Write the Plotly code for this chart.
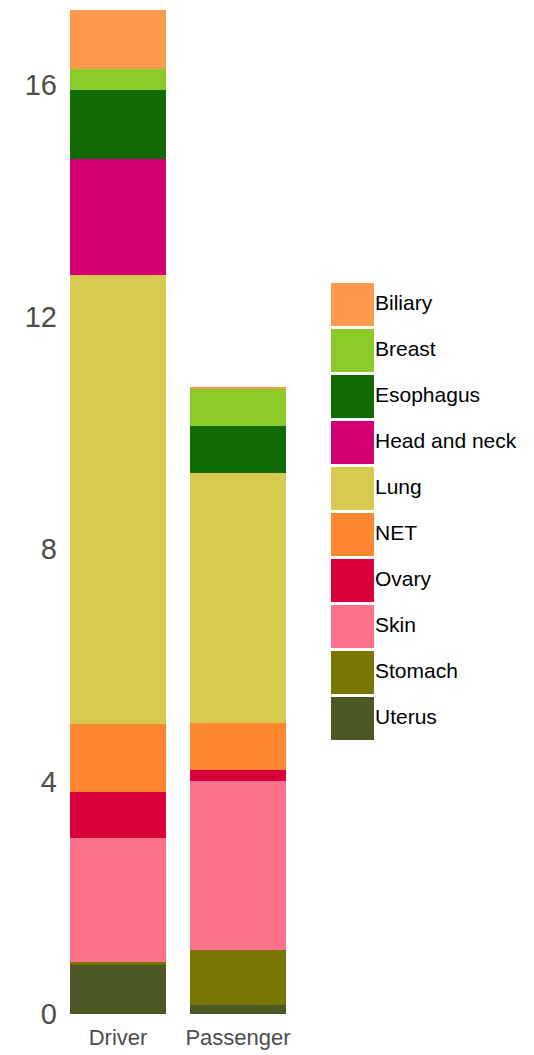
import plotly.graph_objects as go

# categories and data
groups = ["Driver", "Passenger"]
tissues = ["Biliary", "Breast", "Esophagus", "Head and neck", "Lung",
           "NET", "Ovary", "Skin", "Stomach", "Uterus"]
driver = [1.01, 0.37, 1.18, 2.00, 7.73, 1.17, 0.79, 2.14, 0.05, 0.84]
passenger = [0.02, 0.64, 0.81, 0.00, 4.30, 0.81, 0.19, 2.91, 0.95, 0.15]
colors = ["#FE994C", "#8ACB28", "#116A02", "#D20073", "#D6CA50",
          "#FE872F", "#D9003A", "#FE738B", "#787500", "#4B5825"]
y_ticks = [0, 4, 8, 12, 16]

FONT = "Liberation Sans, Arial, Helvetica, sans-serif"
OFF = 8  # page body margin
W, H = 534 - OFF, 1055 - OFF
ML, MR, MT, MB = 58 - OFF, 0, 10 - OFF, 41
pw = W - ML - MR
ph = H - MT - MB

fig = go.Figure()

# stacked bars, first tissue ends on top
for name, c, d, p in reversed(list(zip(tissues, colors, driver, passenger))):
    fig.add_trace(go.Bar(x=groups, y=[d, p], name=name, marker_color=c,
                         marker_line_width=0, showlegend=False,
                         hoverinfo="x+y+name"))

# hand-made legend with big square keys on its own axes
leg_x = 331 - OFF
fig.add_trace(go.Scatter(x=[21.5] * len(tissues), y=tissues, mode="markers",
                         marker=dict(symbol="square", size=43, color=colors,
                                     line_width=0),
                         xaxis="x2", yaxis="y2", showlegend=False,
                         hoverinfo="skip"))
fig.add_trace(go.Scatter(x=[44] * len(tissues), y=tissues, mode="text",
                         text=tissues, textposition="middle right",
                         textfont=dict(family=FONT, size=21, color="#000000"),
                         xaxis="x2", yaxis="y2", showlegend=False,
                         hoverinfo="skip"))

leg_top, pitch = 281.5 - OFF, 46
leg_bot = leg_top + pitch * len(tissues)

fig.update_layout(
    width=W, height=H,
    margin=dict(l=ML, r=MR, t=MT, b=MB),
    paper_bgcolor="white", plot_bgcolor="white",
    barmode="stack", bargap=0.2,
    font=dict(family=FONT),
    xaxis=dict(domain=[0, 240 / pw], range=[-0.5, 1.5],
               showgrid=False, zeroline=False, showline=False, ticks="",
               ticklabelstandoff=8,
               tickfont=dict(size=22, color="#4D4D4D")),
    yaxis=dict(range=[0, 17.28], tickvals=y_ticks, showgrid=False,
               zeroline=False, showline=False, ticks="",
               ticklabelstandoff=0,
               tickfont=dict(size=29, color="#4D4D4D")),
    xaxis2=dict(domain=[(leg_x - ML) / pw, 1], range=[0, W - leg_x],
                visible=False, anchor="y2"),
    yaxis2=dict(domain=[(H - MB - leg_bot) / ph, (H - MB - leg_top) / ph],
                type="category", categoryarray=tissues,
                range=[len(tissues) - 0.5, -0.5], visible=False, anchor="x2"),
)

fig.write_html("out.html")
